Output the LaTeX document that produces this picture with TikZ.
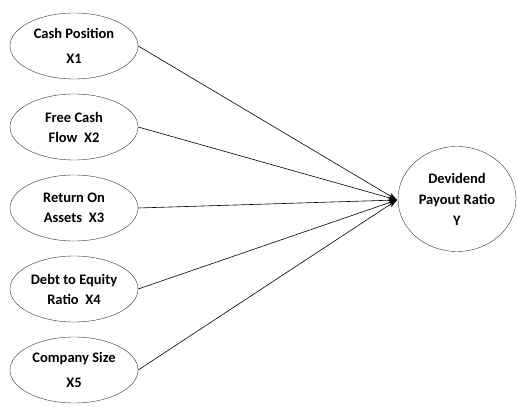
\documentclass[tikz,border=0pt]{standalone}
\usepackage{fontspec}
\setmainfont{Carlito}
\usetikzlibrary{positioning,arrows.meta,shapes.geometric}
\tikzset{
  node-var/.style={draw=black!80,thin,ellipse,inner sep=0pt,
    minimum width=128pt,minimum height=66pt,align=center,
    font=\bfseries\fontsize{14.5}{20}\selectfont},
  node-wide/.style={font=\bfseries\fontsize{14.5}{25}\selectfont},
  node-dep/.style={draw=black!80,thin,ellipse,inner sep=0pt,
    minimum width=118pt,minimum height=105pt,align=center,
    font=\bfseries\fontsize{14.5}{21}\selectfont},
  arrow/.style={-{Stealth[length=9pt,width=6pt]},semithick,draw=black},
}
\begin{document}
\begin{tikzpicture}[x=1pt,y=1pt]
  \useasboundingbox (0,0) rectangle (517,407);
  \node[node-var,node-wide] (x1) at (74,361) {Cash Position\\X1};
  \node[node-var] (x2) at (74,280) {Free Cash\\Flow~~X2};
  \node[node-var] (x3) at (74,199) {Return On\\Assets~~X3};
  \node[node-var] (x4) at (74,118) {Debt to Equity\\Ratio~~X4};
  \node[node-var,node-wide] (x5) at (74,37) {Company Size\\X5};
  \node[node-dep] (y) at (457,208) {Devidend\\Payout Ratio\\Y};
  \coordinate (tip) at (397,207);
  \foreach \n in {x1,x2,x3,x4,x5}
    \draw[arrow] (\n.east) -- (tip);
\end{tikzpicture}
\end{document}
